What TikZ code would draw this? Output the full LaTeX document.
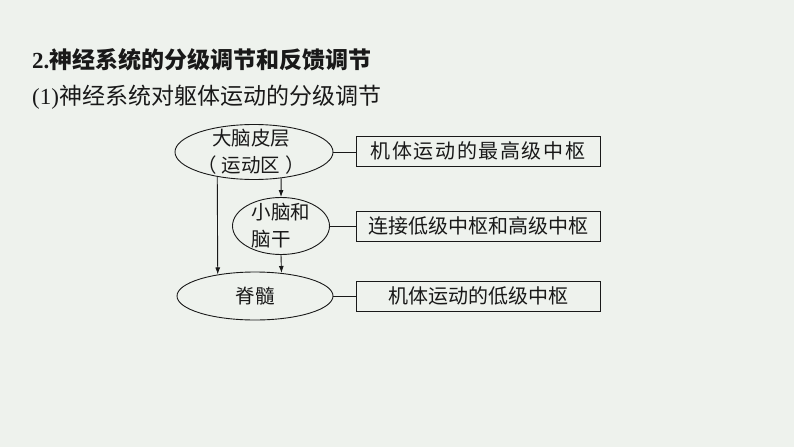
\documentclass[tikz,border=0pt]{standalone}
\usepackage{fontspec}
\setmainfont{Liberation Serif}
\newfontfamily\cjk{Noto Sans CJK SC}
\usetikzlibrary{shapes.geometric,arrows.meta}
\definecolor{bg}{RGB}{238,242,237}
\definecolor{ink}{RGB}{25,25,25}
\begin{document}
\begin{tikzpicture}[x=1pt,y=-1pt,
  ell/.style={ellipse, draw=ink, line width=0.9pt, inner sep=0pt},
  elltext/.style={inner sep=0pt, text=ink, font=\cjk\fontsize{19.5}{27}\selectfont},
  infobox/.style={rectangle, draw=ink, line width=0.9pt, minimum width=244pt, minimum height=30pt,
    inner sep=0pt, text=ink, font=\cjk\fontsize{20}{24}\selectfont},
  link/.style={draw=ink, line width=0.9pt},
  arr/.style={draw=ink, line width=0.9pt, -{Latex[length=7pt,width=5pt]}},
  heading/.style={anchor=west, inner sep=0pt, text=ink}]
\fill[bg] (0,0) rectangle (794,447);
\useasboundingbox (0,0) rectangle (794,447);

\node[heading, font=\fontsize{23}{28}\selectfont\bfseries] (t1) at (32,60) {2.{\cjk 神经系统的分级调节和反馈调节}};
\node[heading, font=\fontsize{23}{28}\selectfont] (t2) at (32,97) {(1){\cjk 神经系统对躯体运动的分级调节}};

\node[ell, minimum width=158pt, minimum height=55pt] (e1) at (254,152) {};
\node[ell, minimum width=97pt, minimum height=57pt] (e2) at (281,226) {};
\node[ell, minimum width=156pt, minimum height=48pt] (e3) at (255,296) {};

\node[elltext, align=center] (e1t) at ([xshift=-3pt]e1.center) {大脑皮层\\（\kern5pt 运动区\kern5pt）};
\node[elltext, align=left] (e2t) at (e2.center) {小脑和\\脑干};
\node[elltext] (e3t) at (e3.center) {脊髓};

\node[infobox] (b1) at (478,151) {\addfontfeature{LetterSpace=8}机体运动的最高级中枢};
\node[infobox] (b2) at (478,226) {连接低级中枢和高级中枢};
\node[infobox] (b3) at (478,296) {机体运动的低级中枢};

\draw[arr] (e1.214) -- (e3.150);
\draw[arr] (e1.316) -- (e2.north);
\draw[arr] (e2.south) -- (e3.41);

\draw[link] (e1.east) -- (b1.west |- e1.east);
\draw[link] (e2.east) -- (b2.west);
\draw[link] (e3.east) -- (b3.west);
\end{tikzpicture}
\end{document}
